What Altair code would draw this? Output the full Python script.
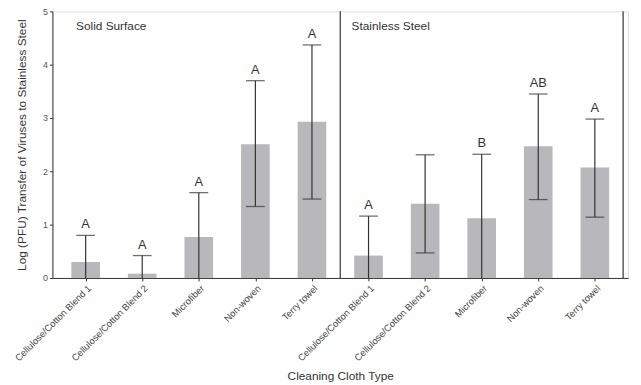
import json
import altair as alt
import pandas as pd

cloths = ["Cellulose/Cotton Blend 1", "Cellulose/Cotton Blend 2", "Microfiber", "Non-woven", "Terry towel"]
surfaces = ["Solid Surface", "Stainless Steel"]

solid_mean = [0.30, 0.08, 0.77, 2.51, 2.93]
solid_hi = [0.80, 0.42, 1.60, 3.70, 4.37]
solid_lo = [0.0, 0.0, 0.0, 1.34, 1.48]
solid_letter = ["A", "A", "A", "A", "A"]

steel_mean = [0.42, 1.39, 1.12, 2.47, 2.07]
steel_hi = [1.16, 2.31, 2.32, 3.45, 2.98]
steel_lo = [0.0, 0.47, 0.0, 1.47, 1.14]
steel_letter = ["A", "", "B", "AB", "A"]

y_ticks = [0, 1, 2, 3, 4, 5]

rows = []
for s_i, (means, his, los, letters) in enumerate([
    (solid_mean, solid_hi, solid_lo, solid_letter),
    (steel_mean, steel_hi, steel_lo, steel_letter),
]):
    for c_i, c in enumerate(cloths):
        rows.append({
            "pos": s_i * len(cloths) + c_i + 0.5,
            "surface": surfaces[s_i],
            "cloth": c,
            "mean": means[c_i],
            "hi": his[c_i],
            "lo": los[c_i],
            "letter": letters[c_i],
        })
df = pd.DataFrame(rows)
n = len(df)
all_labels = cloths * len(surfaces)

xscale = alt.Scale(domain=[0, n], nice=False, zero=False)
yscale = alt.Scale(domain=[0, 5], nice=False)

x_axis = alt.Axis(
    values=[r["pos"] for r in rows],
    labelExpr=json.dumps(all_labels) + "[floor(datum.value)]",
    labelAngle=-45, labelAlign="right", labelBaseline="top",
    labelOverlap=False, labelPadding=2,
    labelFontSize=9.5, labelColor="#444", labelFont="Liberation Sans",
    tickSize=3, tickColor="#333", domainColor="#333", grid=False,
    title="Cleaning Cloth Type", titleFontSize=12, titleFontWeight="normal",
    titleColor="#333", titleFont="Liberation Sans", titlePadding=8,
)
y_axis = alt.Axis(
    values=y_ticks, tickSize=3, tickColor="#333", domainColor="#333",
    labelFontSize=9, labelColor="#555", labelFont="Liberation Sans", grid=False,
    title="Log (PFU) Transfer of Viruses to Stainless Steel", titleFontSize=12,
    titleFontWeight="normal", titleColor="#333", titleFont="Liberation Sans",
    titlePadding=14,
)

base = alt.Chart(df)

bars = base.mark_bar(color="#b8b8bc", size=29).encode(
    x=alt.X("pos:Q", scale=xscale, axis=x_axis),
    y=alt.Y("mean:Q", scale=yscale, axis=y_axis),
)
err = base.mark_rule(color="#333", strokeWidth=1.2).encode(
    x="pos:Q", y="lo:Q", y2="hi:Q"
)
cap_hi = base.mark_tick(orient="horizontal", size=19, thickness=1.3, color="#333").encode(
    x="pos:Q", y="hi:Q"
)
cap_lo = base.transform_filter("datum.lo > 0").mark_tick(
    orient="horizontal", size=19, thickness=1.3, color="#333"
).encode(x="pos:Q", y="lo:Q")
letters_t = base.mark_text(baseline="bottom", dy=-4, fontSize=13,
                           font="Liberation Sans", color="#333").encode(
    x="pos:Q", y="hi:Q", text="letter:N"
)

div_df = pd.DataFrame({"x": [len(cloths), n], "y0": [0, 0], "y1": [5, 5]})
dividers = alt.Chart(div_df).mark_rule(color="#333", strokeWidth=1.2).encode(
    x="x:Q", y="y0:Q", y2="y1:Q"
)

title_df = pd.DataFrame({
    "x": [0.33, len(cloths) + 0.2],
    "y": [4.73, 4.73],
    "t": surfaces,
})
panel_titles = alt.Chart(title_df).mark_text(
    align="left", baseline="middle", fontSize=12, font="Liberation Sans", color="#333"
).encode(x="x:Q", y="y:Q", text="t:N")

chart = alt.layer(bars, err, cap_hi, cap_lo, letters_t, dividers, panel_titles).properties(
    width=583, height=270,
    autosize=alt.AutoSizeParams(type="none"),
    padding={"left": 45, "top": 1, "right": 5, "bottom": 106},
).configure_view(stroke=None).configure(background="white")

chart.save("out.html", embed_options={"renderer": "svg", "actions": False})
